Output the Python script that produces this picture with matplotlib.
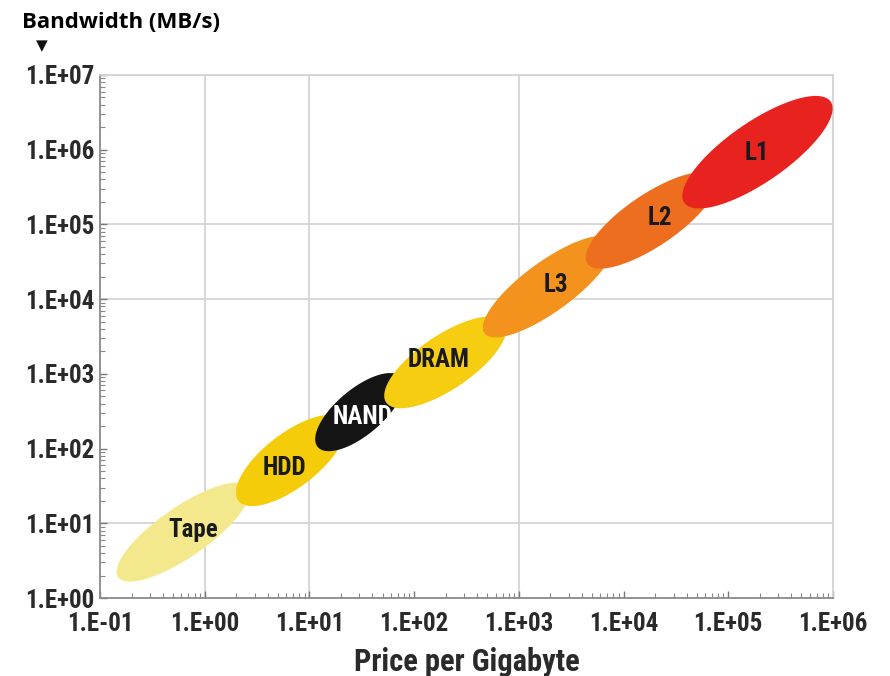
import numpy as np
import matplotlib
matplotlib.use("Agg")
import matplotlib.pyplot as plt
from matplotlib import font_manager
from matplotlib.ticker import FixedLocator, FixedFormatter, LogLocator, NullFormatter

# ── Data ──────────────────────────────────────────────
tech = ["Tape", "HDD", "NAND", "DRAM", "L3", "L2", "L1"]
# ends of each ellipse's long axis (price per GB, bandwidth MB/s)
price_lo = [0.149, 2.1, 12, 54, 470, 4500, 38000]
price_hi = [2.6, 21, 75, 730, 7800, 75000, 950000]
bw_lo = [1.9, 20, 105, 415, 3500, 30000, 195000]
bw_hi = [30.5, 240, 900, 4900, 62000, 430000, 4.4e6]
# label anchor points
label_price = [0.78, 5.8, 32, 170, 2250, 22000, 186000]
label_bw = [8.1, 55, 263, 1530, 15500, 122000, 900000]

x_ticks = [1e-1, 1e0, 1e1, 1e2, 1e3, 1e4, 1e5, 1e6]
x_ticklabels = ["1.E-01", "1.E+00", "1.E+01", "1.E+02", "1.E+03", "1.E+04", "1.E+05", "1.E+06"]
y_ticks = [1e0, 1e1, 1e2, 1e3, 1e4, 1e5, 1e6, 1e7]
y_ticklabels = ["1.E+00", "1.E+01", "1.E+02", "1.E+03", "1.E+04", "1.E+05", "1.E+06", "1.E+07"]
grid_x = [1e0, 1e1, 1e3, 1e6]
grid_y = [1e1, 1e4, 1e5, 1e7]

# ── Style ─────────────────────────────────────────────
colors = ["#f4e88c", "#f5cc0a", "#141414", "#f6cd10", "#f3921c", "#ee6e1f", "#e8231f"]
text_colors = ["#1a1a1a", "#1a1a1a", "#ffffff", "#1a1a1a", "#1a1a1a", "#1a1a1a", "#1a1a1a"]
minor_px = [50, 54, 46, 54, 50, 52, 60]

# pick a narrow bold face if one is installed
installed = {f.name for f in font_manager.fontManager.ttflist}
narrow_first = None
for name in ["Liberation Sans Narrow", "Roboto Condensed", "Open Sans Condensed",
             "DejaVu Sans Condensed", "Liberation Sans"]:
    if name in installed:
        narrow_first = name
        break
narrow = [narrow_first, "DejaVu Sans"] if narrow_first else ["DejaVu Sans"]
condensed = narrow_first in ("Liberation Sans Narrow", "Roboto Condensed", "Open Sans Condensed")
tick_size = 18 if condensed else 13.5
label_size = 18 if condensed else 14
xlab_size = 22 if condensed else 17

fig = plt.figure(figsize=(8.9, 6.76), dpi=100)
ax = fig.add_axes([100 / 890, 1 - 598 / 676, 733 / 890, 523 / 676])
ax.set_xscale("log")
ax.set_yscale("log")
ax.set_xlim(1e-1, 1e6)
ax.set_ylim(1e0, 1e7)

for gx in grid_x:
    ax.axvline(gx, color="#d4d4d4", lw=1.3, zorder=0)
for gy in grid_y:
    ax.axhline(gy, color="#d4d4d4", lw=1.3, zorder=0)

# ── Ellipses (built in display space, mapped back through the log scales) ──
t = np.linspace(0, 2 * np.pi, 200)
for i in range(len(tech)):
    p0 = ax.transData.transform((price_lo[i], bw_lo[i]))
    p1 = ax.transData.transform((price_hi[i], bw_hi[i]))
    c = (p0 + p1) / 2
    d = p1 - p0
    a = np.hypot(*d) / 2
    b = minor_px[i] / 2
    ang = np.arctan2(d[1], d[0])
    ex = c[0] + a * np.cos(t) * np.cos(ang) - b * np.sin(t) * np.sin(ang)
    ey = c[1] + a * np.cos(t) * np.sin(ang) + b * np.sin(t) * np.cos(ang)
    pts = ax.transData.inverted().transform(np.column_stack([ex, ey]))
    ax.fill(pts[:, 0], pts[:, 1], color=colors[i], lw=0, zorder=2 + i)
    ax.text(label_price[i], label_bw[i], tech[i], ha="center", va="center",
            fontsize=label_size, fontweight="bold", family=narrow, color=text_colors[i],
            zorder=20)

# ── Axes styling ─────────────────────────────────────
for side in ["top", "right"]:
    ax.spines[side].set_color("#d4d4d4")
    ax.spines[side].set_linewidth(1.3)
for side in ["left", "bottom"]:
    ax.spines[side].set_color("#8a8a8a")
    ax.spines[side].set_linewidth(1.3)

ax.xaxis.set_major_locator(FixedLocator(x_ticks))
ax.xaxis.set_major_formatter(FixedFormatter(x_ticklabels))
ax.yaxis.set_major_locator(FixedLocator(y_ticks))
ax.yaxis.set_major_formatter(FixedFormatter(y_ticklabels))
for axis in [ax.xaxis, ax.yaxis]:
    axis.set_minor_locator(LogLocator(base=10, subs=np.arange(2, 10), numticks=20))
    axis.set_minor_formatter(NullFormatter())

ax.tick_params(which="major", direction="in", length=5, width=1, color="#777777",
               labelsize=tick_size, labelcolor="#2a2a2a")
ax.tick_params(axis="x", which="major", pad=10)
ax.tick_params(axis="y", which="major", pad=4)
ax.tick_params(which="minor", direction="in", length=3.5, width=0.8, color="#888888")
for lab in ax.get_xticklabels() + ax.get_yticklabels():
    lab.set_family(narrow)
    lab.set_fontweight("bold")

ax.set_xlabel("Price per Gigabyte", fontsize=xlab_size, fontweight="bold", family=narrow,
              color="#2a2a2a", labelpad=8)

fig.text(22 / 890, 1 - 22 / 676, "Bandwidth (MB/s)", fontsize=16, fontweight="bold",
         family=["Open Sans", "DejaVu Sans"], va="center", ha="left", color="#000000")
fig.text(42 / 890, 1 - 46 / 676, "\u25BC", fontsize=11, va="center", ha="center",
         family=["DejaVu Sans"], color="#111111")

fig.savefig("out.png", dpi=100)
